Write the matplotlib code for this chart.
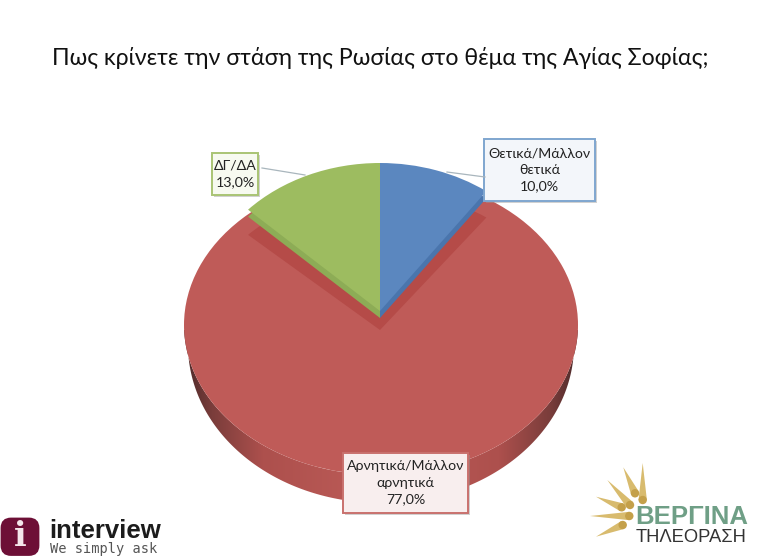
import numpy as np
import matplotlib
matplotlib.use("Agg")
import matplotlib.pyplot as plt
from matplotlib.patches import FancyBboxPatch, Polygon, Ellipse, Rectangle
from matplotlib.colors import LinearSegmentedColormap

W, H = 760, 558
title = "Πως κρίνετε την στάση της Ρωσίας στο θέμα της Αγίας Σοφίας;"
categories = ["Θετικά/Μάλλον\nθετικά", "Αρνητικά/Μάλλον\nαρνητικά", "ΔΓ/ΔΑ"]
values = [10.0, 77.0, 13.0]
value_labels = ["10,0%", "77,0%", "13,0%"]
face = ["#5b87bf", "#bf5b58", "#9dbc60"]
wall = ["#4a75ad", "#b54b48", "#8dac56"]
box_edge = ["#7fa6cf", "#c9716e", "#a9c474"]
box_fill = ["#f3f6fa", "#f8eeee", "#f7faf0"]

plt.rcParams["font.family"] = ["Lato", "DejaVu Sans"]
fig = plt.figure(figsize=(W / 100, H / 100), dpi=100, facecolor="white")


def pie_axes(cx, cy, rx, ry, z):
    ax = fig.add_axes([(cx - rx) / W, 1 - (cy + ry) / H, 2 * rx / W, 2 * ry / H], zorder=z)
    ax.patch.set_alpha(0)
    return ax


def draw_pie(cx, cy, rx, ry, z, vals, colors):
    ax = pie_axes(cx, cy, rx, ry, z)
    ax.pie(vals, colors=colors, startangle=90, counterclock=False, radius=1,
           wedgeprops={"linewidth": 0})
    ax.set_aspect("auto")
    ax.set_xlim(-1, 1)
    ax.set_ylim(-1, 1)
    ax.axis("off")
    return ax


# pixel-space layer behind the pie: side wall of the big slice
base = fig.add_axes([0, 0, 1, 1], zorder=0)
base.set_xlim(0, W)
base.set_ylim(H, 0)
base.axis("off")
t = np.linspace(0, np.pi, 200)
top_x, top_y = 381 + 197 * np.cos(t), 325 + 150 * np.sin(t)
bot_x, bot_y = 381 + 193 * np.cos(t), 345 + 158 * np.sin(t)
outline = np.r_[np.c_[bot_x, bot_y], np.c_[top_x[::-1], top_y[::-1]]]
cmap = LinearSegmentedColormap.from_list(
    "wall", [(0, "#4d2a2a"), (.07, "#7a3d3b"), (.2, "#ad504d"), (.5, "#bd5c58"),
             (.8, "#ad504d"), (.93, "#7a3d3b"), (1, "#4d2a2a")])
grad = np.linspace(0, 1, 256)[None, :]
img = base.imshow(grad, cmap=cmap, extent=(184, 578, 510, 330), aspect="auto", interpolation="bilinear")
clip = Polygon(outline, closed=True, transform=base.transData, fc="none", ec="none")
base.add_patch(clip)
img.set_clip_path(clip)
base.set_xlim(0, W)
base.set_ylim(H, 0)

# big slice as a full face (one wedge, so no seams show)
draw_pie(381, 325, 197, 150, 1, [sum(values)], [face[1]])
# inner wall seen in its notch
draw_pie(380, 330, 181, 139, 2, values, [wall[1], "none", wall[1]])
# walls of the two smaller slices, then their top faces
draw_pie(380, 318, 181, 148, 3, values, [wall[0], "none", wall[2]])
draw_pie(380, 311, 181, 148, 4, values, [face[0], "none", face[2]])

# overlay: labels, leaders, logos
ov = fig.add_axes([0, 0, 1, 1], zorder=5)
ov.set_xlim(0, W)
ov.set_ylim(H, 0)
ov.axis("off")
ov.patch.set_alpha(0)

ov.text(380, 58, title, ha="center", va="center", fontsize=16.65, color="#111111")

ov.plot([262, 305], [168, 175], color="#a9b6bd", lw=0.9)
ov.plot([447, 485], [172, 177], color="#a9b6bd", lw=0.9)

boxes = [(484, 139, 111, 62), (343, 453, 125, 60), (212, 153, 46, 42)]
for i, (x, y, w, h) in enumerate(boxes):
    ov.add_patch(Rectangle((x + 2, y + 2), w, h, fc="#9a9a9a", ec="none", alpha=0.45))
    ov.add_patch(Rectangle((x, y), w, h, fc=box_fill[i], ec=box_edge[i], lw=1.4))
    ov.text(x + w / 2, y + h / 2, f"{categories[i]}\n{value_labels[i]}", ha="center", va="center",
            fontsize=10.2, color="#222222", linespacing=1.45)

# interview logo
ov.add_patch(FancyBboxPatch((2, 519), 36, 35.5, boxstyle="round,pad=0,rounding_size=9",
                            mutation_scale=1, fc="#6d0f36", ec="#6d0f36", lw=2))
ov.text(20.5, 537, "i", ha="center", va="center", fontsize=24, fontweight="bold",
        family="DejaVu Serif", color="#f4e6ea")
ov.text(49.5, 538.5, "interview", ha="left", va="baseline", fontsize=18.5, fontweight="bold",
        family="Liberation Sans", color="#1c1c1c")
ov.text(50, 552.5, "We simply ask", ha="left", va="baseline", fontsize=9.8, family="DejaVu Sans Mono",
        color="#555555")

# Vergina TV logo
ray_tips = [(642.7, 463), (623.3, 467.3), (607.3, 480), (596, 496.7), (590, 516), (596, 536.7)]
ray_ends = [(642.7, 500), (635, 493.3), (630, 505), (621.7, 507.3), (629.3, 516), (622.7, 525)]
for (tx, ty), (ex, ey) in zip(ray_tips, ray_ends):
    d = np.array([ex - tx, ey - ty], float)
    n = np.array([-d[1], d[0]]) / np.hypot(*d) * 4.2
    ov.add_patch(Polygon([(tx, ty), (ex + n[0], ey + n[1]), (ex - n[0], ey - n[1])],
                         fc="#d8bb6e", ec="none"))
    ov.add_patch(Ellipse((ex, ey), 8.4, 8.4, fc="#c4a04a", ec="none"))
ov.text(692, 517, "ΒΕΡΓΙΝΑ", ha="center", va="center", fontsize=18.5, color="#6f9f86",
        family="Liberation Sans", fontweight="bold")
ov.text(691, 537, "ΤΗΛΕΟΡΑΣΗ", ha="center", va="center", fontsize=13.2, color="#333333",
        family="Liberation Sans")

fig.savefig("out.png", dpi=100, facecolor="white")
